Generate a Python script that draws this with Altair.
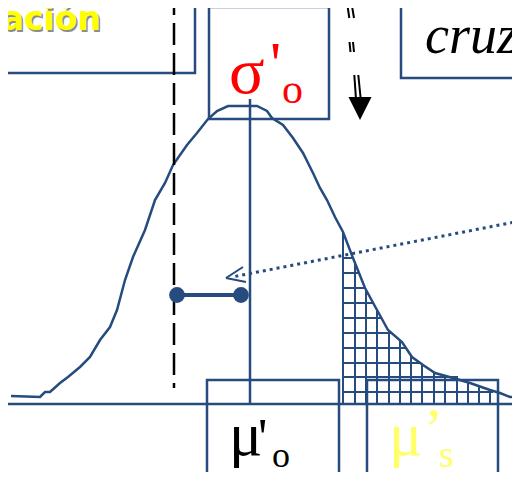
import altair as alt
import pandas as pd

BLUE = "#264B7E"

# Curve (picture coordinates, y downward)
curve_x = [11, 40, 45, 50, 60, 68, 80, 90, 100, 110, 117, 125, 133, 145, 155, 165, 173, 187, 197, 208, 217, 228, 257, 267, 272, 283, 293, 303, 313, 320, 327, 335, 343, 353, 365, 377, 388, 402, 412, 423, 435, 453, 470, 490, 500, 510, 520]
curve_y = [396, 397, 392, 392, 383, 377, 367, 357, 340, 327, 310, 280, 257, 230, 200, 183, 165, 145, 133, 119, 111, 106, 106, 111, 118, 125, 138, 153, 173, 188, 200, 217, 232, 258, 288, 310, 330, 342, 357, 365, 373, 378, 383, 390, 393, 397, 397]

# Hatched region grid: vertical lines (x, top read at curve) and horizontal lines (y, right end at curve)
grid_vx = [343, 355, 366, 377, 389, 400, 411, 422, 434, 445, 457, 468, 479, 490, 498]
grid_vtop = [232, 262, 290, 310, 330, 341, 355, 364, 372, 376, 379, 382, 386, 390, 393]
grid_hy = [258, 273, 288, 303, 318, 333, 348, 363, 377, 392]
grid_hright = [353, 359, 365, 373, 381, 392, 406, 421, 458, 493]
grid_bottom, grid_left = 404, 343

# Boxes
box_x1 = [-5, 209, 401, 207, 367]
box_x2 = [195, 329, 530, 339, 498]
box_y1 = [-5, 7, -5, 380, 380]
box_y2 = [73, 119, 78, 478, 478]

# Blue solid segments: baseline, vertical line
seg_x1 = [5, 250]
seg_x2 = [520, 250]
seg_y1 = [404, 99]
seg_y2 = [404, 404]

# Black dashed line
dash_x = [174]
dash_y1 = [-7]
dash_y2 = [388]

# Black double arrow strokes
arr_x1 = [346.7, 351.0, 349.5, 353.0, 354.3, 358.3]
arr_x2 = [349.3, 354.0, 350.5, 354.0, 356.0, 360.7]
arr_y1 = [0, 0, 42, 42, 75, 75]
arr_y2 = [18, 18, 52, 52, 99, 99]
head_x = [360]
head_y = [108.5]

# Dotted pointer
dot_x1, dot_y1, dot_x2, dot_y2 = [520], [221], [232], [277]
tip_x1 = [226, 226]
tip_y1 = [278, 278]
tip_x2 = [243, 246]
tip_y2 = [267, 282]

# Dumbbell
bell_x = [177, 241]
bell_y = [295, 295]

# Texts
serif_text = ["σ", "'", "o", "μ", "'", "o", "μ", "’", "s"]
serif_x = [229, 270, 282, 229, 258, 272, 389, 424, 439]
serif_y = [93, 84, 103, 455, 455, 467, 455, 448, 467]
serif_size = [66, 62, 42, 62, 52, 36, 62, 56, 38]
serif_color = ["#FF0000", "#FF0000", "#FF0000", "#000000", "#000000", "#000000", "#FFFF66", "#FFFF66", "#FFFF66"]

italic_text = ["cruz"]
italic_x = [425]
italic_y = [53]

sans_text = ["ación"]
sans_x = [101]
sans_y = [30]

X = alt.Scale(domain=[8, 512], nice=False, zero=False)
Y = alt.Scale(domain=[8, 472], nice=False, zero=False, reverse=True)


def xq(f):
    return alt.X(f, type="quantitative", scale=X, axis=None)


def yq(f):
    return alt.Y(f, type="quantitative", scale=Y, axis=None)


vgrid = pd.DataFrame({"x": grid_vx, "y1": grid_vtop, "y2": grid_bottom})
hgrid = pd.DataFrame({"y": grid_hy, "x1": grid_left, "x2": grid_hright})
g1 = alt.Chart(vgrid).mark_rule(color=BLUE, strokeWidth=2).encode(x=xq("x"), y=yq("y1"), y2="y2")
g2 = alt.Chart(hgrid).mark_rule(color=BLUE, strokeWidth=2).encode(y=yq("y"), x=xq("x1"), x2="x2")

curve = pd.DataFrame({"x": curve_x, "y": curve_y})
curve_line = alt.Chart(curve).mark_line(color=BLUE, strokeWidth=2.5).encode(
    x=xq("x"), y=yq("y"), order="x:Q")

boxes = pd.DataFrame({"x1": box_x1, "x2": box_x2, "y1": box_y1, "y2": box_y2})
box_layer = alt.Chart(boxes).mark_rect(fillOpacity=0, stroke=BLUE, strokeWidth=2.5).encode(
    x=xq("x1"), x2="x2", y=yq("y1"), y2="y2")

segs = pd.DataFrame({"x1": seg_x1, "x2": seg_x2, "y1": seg_y1, "y2": seg_y2})
seg_layer = alt.Chart(segs).mark_rule(color=BLUE, strokeWidth=2.5).encode(
    x=xq("x1"), x2="x2", y=yq("y1"), y2="y2")

dash = pd.DataFrame({"x": dash_x, "y1": dash_y1, "y2": dash_y2})
dash_layer = alt.Chart(dash).mark_rule(color="black", strokeWidth=2.5, strokeDash=[22, 8]).encode(
    x=xq("x"), y=yq("y1"), y2="y2")

arr = pd.DataFrame({"x1": arr_x1, "x2": arr_x2, "y1": arr_y1, "y2": arr_y2})
arr_layer = alt.Chart(arr).mark_rule(color="black", strokeWidth=2).encode(
    x=xq("x1"), x2="x2", y=yq("y1"), y2="y2")
head = pd.DataFrame({"x": head_x, "y": head_y})
head_layer = alt.Chart(head).mark_point(shape="M-1,-1L1,-1L0,1Z", filled=True, color="black",
                                         size=529, opacity=1).encode(x=xq("x"), y=yq("y"))

dots = pd.DataFrame({"x1": dot_x1, "x2": dot_x2, "y1": dot_y1, "y2": dot_y2})
dot_layer = alt.Chart(dots).mark_rule(color=BLUE, strokeWidth=3, strokeDash=[3, 4]).encode(
    x=xq("x1"), x2="x2", y=yq("y1"), y2="y2")
tips = pd.DataFrame({"x1": tip_x1, "x2": tip_x2, "y1": tip_y1, "y2": tip_y2})
tip_layer = alt.Chart(tips).mark_rule(color=BLUE, strokeWidth=2).encode(
    x=xq("x1"), x2="x2", y=yq("y1"), y2="y2")

bell = pd.DataFrame({"x": bell_x, "y": bell_y})
bell_line = alt.Chart(bell).mark_line(color=BLUE, strokeWidth=4).encode(x=xq("x"), y=yq("y"))
bell_pts = alt.Chart(bell).mark_circle(color=BLUE, size=250, opacity=1).encode(x=xq("x"), y=yq("y"))

serif = pd.DataFrame({"t": serif_text, "x": serif_x, "y": serif_y, "s": serif_size, "c": serif_color})
serif_layer = alt.Chart(serif).mark_text(font="Liberation Serif", align="left", baseline="alphabetic").encode(
    x=xq("x"), y=yq("y"), text="t:N", size=alt.Size("s:Q", scale=None), color=alt.Color("c:N", scale=None))

ital = pd.DataFrame({"t": italic_text, "x": italic_x, "y": italic_y})
ital_layer = alt.Chart(ital).mark_text(font="Liberation Serif", fontStyle="italic", fontSize=54,
                                       align="left", baseline="alphabetic", color="black").encode(
    x=xq("x"), y=yq("y"), text="t:N")

sans = pd.DataFrame({"t": sans_text, "x": sans_x, "y": sans_y})
sans_shadow = alt.Chart(sans).mark_text(font="DejaVu Sans", fontWeight="bold", fontSize=33, align="right",
                                        baseline="alphabetic", color="#8C8C8C", dx=1.5, dy=1.5).encode(
    x=xq("x"), y=yq("y"), text="t:N")
sans_layer = alt.Chart(sans).mark_text(font="DejaVu Sans", fontWeight="bold", fontSize=33, align="right",
                                       baseline="alphabetic", color="#FFFF00").encode(
    x=xq("x"), y=yq("y"), text="t:N")

chart = alt.layer(
    g1, g2, curve_line, seg_layer, box_layer, dash_layer, arr_layer, head_layer,
    dot_layer, tip_layer, bell_line, bell_pts, sans_shadow, sans_layer, serif_layer, ital_layer
).properties(width=504, height=464, padding=0, autosize="none", background="white"
).configure_view(stroke=None)

chart.save("out.html", embed_options={"renderer": "svg", "actions": False})
